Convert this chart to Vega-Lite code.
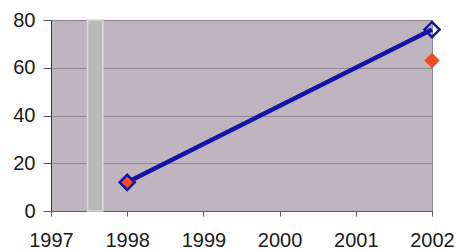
{
  "$schema": "https://vega.github.io/schema/vega-lite/v6.json",
  "width": 381,
  "height": 191,
  "autosize": {"type": "none"},
  "padding": {"left": 51, "top": 20, "right": 26, "bottom": 40},
  "background": "white",
  "config": {
    "view": {"fill": "#BFB5BF", "stroke": "#8E8A96", "strokeWidth": 1},
    "axis": {"labelFont": "Liberation Sans", "labelFontSize": 20, "labelColor": "#1a1a1a", "domainColor": "#5a5a6a", "tickColor": "#5a5a6a", "title": null, "labelFlush": false, "labelOverlap": false, "labelBound": false}
  },
  "datasets": {
    "band": [{"start": 1997.48, "end": 1997.68, "low": 0, "high": 80}],
    "series": [
      {"year": 1998, "value": 12, "series": "A"},
      {"year": 2002, "value": 76, "series": "A"},
      {"year": 1998, "value": 12, "series": "B"},
      {"year": 2002, "value": 63, "series": "B"}
    ]
  },
  "layer": [
    {
      "data": {"name": "band"},
      "mark": {"type": "rect", "fill": "#B9B9B9", "stroke": "#DADADA", "strokeWidth": 1.5},
      "encoding": {
        "x": {"field": "start", "type": "quantitative", "scale": {"domain": [1997, 2002], "nice": false, "zero": false},
          "axis": {"values": [1997, 1998, 1999, 2000, 2001, 2002], "format": "d", "grid": false, "tickSize": 5, "labelPadding": 14, "labelFontSize": 20, "domainColor": "#5a5a6a"}},
        "x2": {"field": "end"},
        "y": {"field": "low", "type": "quantitative", "scale": {"domain": [0, 80], "nice": false},
          "axis": {"values": [0, 20, 40, 60, 80], "grid": true, "gridColor": "#8C8692", "gridWidth": 1, "tickSize": 8, "labelPadding": 8, "labelFontSize": 20, "domainColor": "#2a2a80"}},
        "y2": {"field": "high"}
      }
    },
    {
      "data": {"name": "series"},
      "transform": [{"filter": "datum.series == 'A'"}],
      "mark": {"type": "line", "color": "#1414A6", "strokeWidth": 4.5},
      "encoding": {
        "x": {"field": "year", "type": "quantitative"},
        "y": {"field": "value", "type": "quantitative"}
      }
    },
    {
      "data": {"name": "series"},
      "transform": [{"filter": "datum.series == 'B'"}],
      "mark": {"type": "point", "shape": "diamond", "filled": true, "color": "#F04E22", "opacity": 1, "size": 240},
      "encoding": {
        "x": {"field": "year", "type": "quantitative"},
        "y": {"field": "value", "type": "quantitative"}
      }
    },
    {
      "data": {"name": "series"},
      "transform": [{"filter": "datum.series == 'A'"}],
      "mark": {"type": "point", "shape": "diamond", "filled": false, "stroke": "#1414A6", "strokeWidth": 2.5, "size": 230, "opacity": 1},
      "encoding": {
        "x": {"field": "year", "type": "quantitative"},
        "y": {"field": "value", "type": "quantitative"}
      }
    }
  ]
}
